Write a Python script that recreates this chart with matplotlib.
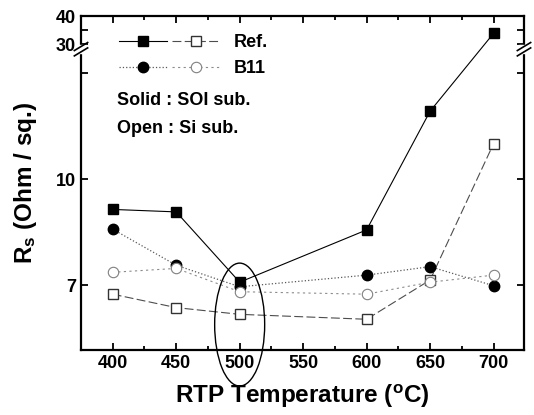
import numpy as np
import matplotlib.pyplot as plt
from matplotlib.patches import Ellipse, Rectangle
from matplotlib.legend_handler import HandlerTuple
from matplotlib.ticker import MultipleLocator

plt.rcParams['font.family'] = 'Liberation Sans'
plt.rcParams['font.weight'] = 'bold'
plt.rcParams['axes.labelweight'] = 'bold'
plt.rcParams['mathtext.fontset'] = 'custom'
plt.rcParams['mathtext.rm'] = 'Liberation Sans:bold'
plt.rcParams['mathtext.it'] = 'Liberation Sans:bold'
plt.rcParams['mathtext.bf'] = 'Liberation Sans:bold'

# data
temps = [400, 450, 500, 600, 650, 700]
ref_soi = [9.14, 9.07, 7.08, 8.56, 11.92, 33.8]
ref_si = [6.74, 6.36, 6.17, 6.03, 7.14, 11.0]
b11_soi = [8.58, 7.56, 6.95, 7.28, 7.52, 6.98]
b11_si = [7.36, 7.47, 6.81, 6.74, 7.08, 7.28]

y_ticks = [7, 10, 13, 30, 35, 40]
y_ticklabels = ['7', '10', '', '30', '', '40']

# broken y axis: linear 5.16-13.6, small gap, then compressed 28.9-40
brk_v = [-100, 5.16, 13.62, 28.9, 40, 200]
brk_p = [-3715.3, 0, 298.9, 303, 334.1, 782.1]


def fwd(v):
    return np.interp(v, brk_v, brk_p)


def inv(p):
    return np.interp(p, brk_p, brk_v)


fig = plt.figure(figsize=(5.34, 4.15), dpi=100)
ax = fig.add_axes([81 / 534, 65 / 415, 443 / 534, 334 / 415])
ax.set_yscale('function', functions=(fwd, inv))

l1, = ax.plot(temps, ref_soi, color='k', ls='-', lw=0.8, marker='s',
              ms=7, mfc='k', mec='k')
l2, = ax.plot(temps, ref_si, color='0.3', ls=(0, (8, 3)), lw=0.8, marker='s',
              ms=7, mfc='white', mec='0.2', mew=1)
l3, = ax.plot(temps, b11_soi, color='0.35', ls=':', lw=0.9, marker='o',
              ms=7.5, mfc='k', mec='k')
l4, = ax.plot(temps, b11_si, color='0.55', ls=(0, (2, 3)), lw=0.8, marker='o',
              ms=7.5, mfc='white', mec='0.5', mew=0.8)

ax.set_xlim(375, 724)
ax.set_ylim(5.16, 40)
ax.set_yticks(y_ticks)
ax.set_yticklabels(y_ticklabels)
ax.xaxis.set_major_locator(MultipleLocator(50))
ax.xaxis.set_minor_locator(MultipleLocator(25))
ax.tick_params(which='both', direction='in', top=True, right=True,
               labelsize=13, width=1.3)
ax.tick_params(which='major', length=5)
ax.tick_params(which='minor', length=3)
for s in ax.spines.values():
    s.set_linewidth(1.6)

ax.set_xlabel('RTP Temperature ($^\\mathrm{o}$C)', fontsize=17.5,
              fontweight='bold', labelpad=8)
ax.set_ylabel('R$_\\mathrm{s}$ (Ohm / sq.)', fontsize=17.5,
              fontweight='bold', labelpad=12)

# break marks on both spines
yc = (fwd(21) - fwd(5.16)) / (fwd(40) - fwd(5.16))
for xs in (0, 1):
    ax.add_patch(Rectangle((xs - 0.012, yc - 0.012), 0.024, 0.024,
                           transform=ax.transAxes, color='white',
                           clip_on=False, zorder=5))
    for dy in (-0.008, 0.008):
        ax.plot([xs - 0.015, xs + 0.015], [yc + dy - 0.012, yc + dy + 0.012],
                transform=ax.transAxes, color='k', lw=1.2, clip_on=False,
                zorder=6)

ax.add_patch(Ellipse((500, 5.88), 39.4, 3.48, fill=False, ec='k', lw=1,
                     clip_on=False, zorder=4))

leg = ax.legend([(l1, l2), (l3, l4)], ['Ref.', 'B11'],
                handler_map={tuple: HandlerTuple(ndivide=None, pad=0.3)},
                loc='upper left', bbox_to_anchor=(0.085, 0.945),
                frameon=False, handlelength=5.6, handletextpad=0.8,
                fontsize=13, labelspacing=0.5, borderpad=0, borderaxespad=0)

ax.text(0.081, 0.746, 'Solid : SOI sub.', transform=ax.transAxes,
        fontsize=13, va='center')
ax.text(0.081, 0.662, 'Open : Si sub.', transform=ax.transAxes,
        fontsize=13, va='center')

fig.savefig('out.png', dpi=100)
